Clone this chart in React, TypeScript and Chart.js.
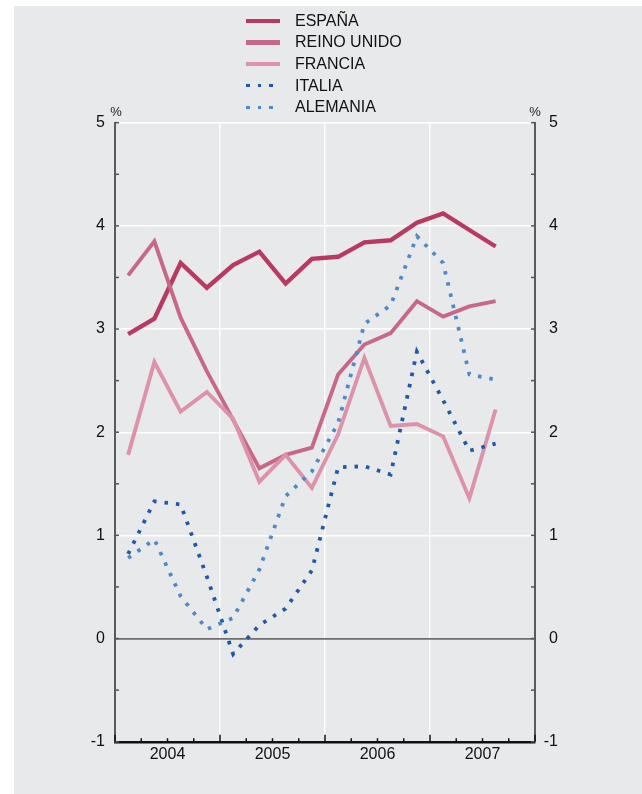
import React, { useEffect, useRef } from "react";
import { Chart, registerables } from "chart.js";

Chart.register(...registerables);

// ---- data ----
const YEARS = ["2004", "2005", "2006", "2007"];
const QUARTERS = [
  "2004-I", "2004-II", "2004-III", "2004-IV",
  "2005-I", "2005-II", "2005-III", "2005-IV",
  "2006-I", "2006-II", "2006-III", "2006-IV",
  "2007-I", "2007-II", "2007-III",
];
const SERIES_NAMES = ["ESPAÑA", "REINO UNIDO", "FRANCIA", "ITALIA", "ALEMANIA"];
const ESPANA = [2.95, 3.1, 3.64, 3.4, 3.62, 3.75, 3.44, 3.68, 3.7, 3.84, 3.86, 4.03, 4.12, 3.96, 3.8];
const REINO_UNIDO = [3.52, 3.85, 3.11, 2.59, 2.12, 1.65, 1.78, 1.85, 2.56, 2.85, 2.96, 3.27, 3.12, 3.22, 3.27];
const FRANCIA = [1.78, 2.68, 2.2, 2.39, 2.13, 1.52, 1.78, 1.46, 1.98, 2.72, 2.06, 2.08, 1.96, 1.36, 2.22];
const ITALIA = [0.82, 1.33, 1.3, 0.6, -0.15, 0.13, 0.29, 0.66, 1.66, 1.67, 1.59, 2.78, 2.31, 1.82, 1.89];
const ALEMANIA = [0.78, 0.96, 0.41, 0.09, 0.2, 0.67, 1.38, 1.62, 2.09, 3.05, 3.23, 3.9, 3.64, 2.56, 2.51];
const Y_TICKS_MIN = -1;
const Y_TICKS_MAX = 5;

// ---- styles ----
const COLORS = ["#b83a62", "#c86889", "#dc93aa", "#2058a8", "#4f88c8"];
const DOTTED = [false, false, false, true, true];
const WIDTHS = [4.4, 3.9, 3.9, 3.8, 3.8];
const BG = "#e8e9eb";
const FONT = '"Liberation Sans", Arial, Helvetica, sans-serif';

const W = 628;
const H = 788;

const axisDecor = {
  id: "axisDecor",
  afterDraw(chart: any) {
    const { ctx, chartArea } = chart;
    const { left, right, top, bottom } = chartArea;
    const x = chart.scales.x;
    const y = chart.scales.y;
    const seg = (x1: number, y1: number, x2: number, y2: number) => {
      ctx.beginPath();
      ctx.moveTo(x1, y1);
      ctx.lineTo(x2, y2);
      ctx.stroke();
    };
    ctx.save();
    ctx.strokeStyle = "#555";
    ctx.lineWidth = 1.5;
    for (let v = Y_TICKS_MIN; v <= Y_TICKS_MAX + 1e-9; v += 0.5) {
      const py = y.getPixelForValue(v);
      seg(left, py, left + 4, py);
      seg(right - 4, py, right, py);
    }
    ctx.strokeStyle = "#111";
    ctx.lineWidth = 1.5;
    for (let q = 0; q <= YEARS.length * 4; q++) {
      const px = x.getPixelForValue(q);
      const len = q % 4 === 0 ? 7 : 3.5;
      seg(px, bottom, px, bottom - len);
    }
    ctx.fillStyle = "#222";
    ctx.font = "13px " + FONT;
    ctx.textAlign = "center";
    ctx.textBaseline = "middle";
    ctx.fillText("%", left + 1, top - 10);
    ctx.fillText("%", right, top - 10);
    ctx.restore();
  },
};

export default function App() {
  const ref = useRef<HTMLCanvasElement | null>(null);

  useEffect(() => {
    if (!ref.current) return;
    Chart.defaults.font.family = FONT;
    const seriesValues = [ESPANA, REINO_UNIDO, FRANCIA, ITALIA, ALEMANIA];
    const datasets = seriesValues.map((vals, si) => ({
      label: SERIES_NAMES[si],
      data: vals.map((v, i) => ({ x: QUARTERS.indexOf(QUARTERS[i]) + 0.5, y: v })),
      borderColor: COLORS[si],
      backgroundColor: COLORS[si],
      borderWidth: WIDTHS[si],
      borderDash: DOTTED[si] ? [3.5, 8] : [],
      borderCapStyle: "butt" as const,
      borderJoinStyle: "miter" as const,
      pointRadius: 0,
      tension: 0,
      fill: false,
    }));
    const ordered = [datasets[4], datasets[3], datasets[2], datasets[1], datasets[0]];

    const chart = new Chart(ref.current, {
      type: "line",
      data: { datasets: ordered },
      plugins: [axisDecor],
      options: {
        responsive: false,
        animation: false,
        layout: { padding: { top: 116.7, left: 0, right: 84, bottom: 0 } },
        plugins: { legend: { display: false }, tooltip: { enabled: false } },
        scales: {
          x: {
            type: "linear",
            min: 0,
            max: YEARS.length * 4,
            afterFit: (s: any) => {
              s.height = 52.3;
            },
            ticks: {
              stepSize: 1,
              autoSkip: false,
              maxRotation: 0,
              padding: 3,
              color: "#111",
              font: { size: 16 },
              callback: (v: any) => {
                const n = Number(v);
                return n % 4 === 2 ? YEARS[(n - 2) / 4] : "";
              },
            },
            grid: {
              drawTicks: false,
              color: (c: any) => {
                const v = c.tick ? c.tick.value : 0;
                return v > 0 && v < YEARS.length * 4 && v % 4 === 0 ? "#ffffff" : "rgba(0,0,0,0)";
              },
              lineWidth: 1.4,
            },
            border: { display: true, color: "#111", width: 2.4 },
          },
          y: {
            type: "linear",
            position: "left",
            min: Y_TICKS_MIN,
            max: Y_TICKS_MAX,
            afterFit: (s: any) => {
              s.width = 101;
            },
            ticks: { stepSize: 1, padding: 10, color: "#111", font: { size: 16 } },
            grid: {
              drawTicks: false,
              color: (c: any) => {
                const v = c.tick ? c.tick.value : 0;
                if (v === 0) return "#6e6e6e";
                if (v === Y_TICKS_MIN) return "rgba(0,0,0,0)";
                return "#ffffff";
              },
              lineWidth: (c: any) => (c.tick && c.tick.value === 0 ? 1.8 : 1.4),
            },
            border: { display: true, color: "#5a5a5a", width: 2 },
          },
          y2: {
            type: "linear",
            position: "right",
            min: Y_TICKS_MIN,
            max: Y_TICKS_MAX,
            afterFit: (s: any) => {
              s.width = 23;
            },
            ticks: { stepSize: 1, padding: 10, crossAlign: "far", color: "#111", font: { size: 16 } },
            grid: { display: false, drawTicks: false },
            border: { display: true, color: "#5a5a5a", width: 2 },
          },
        },
      } as any,
    });
    return () => chart.destroy();
  }, []);

  const rowTop = 14.7;
  const rowGap = 21.65;

  return (
    <div
      style={{
        position: "absolute",
        left: 14,
        top: 6,
        width: W,
        height: H,
        background: BG,
        fontFamily: FONT,
      }}
    >
      <canvas ref={ref} width={W} height={H} style={{ position: "absolute", left: 0, top: 0, width: W, height: H }} />
      {SERIES_NAMES.map((name, i) => {
        const cy = rowTop + i * rowGap;
        const sample = DOTTED[i]
          ? {
              width: 27,
              height: 3.6,
              background: `repeating-linear-gradient(to right, ${COLORS[i]} 0px, ${COLORS[i]} 3.6px, transparent 3.6px, transparent 11.7px)`,
            }
          : { width: 34, height: 4.4, background: COLORS[i] };
        return (
          <React.Fragment key={name}>
            <div
              style={{
                position: "absolute",
                left: 232,
                top: cy - sample.height / 2,
                ...sample,
              }}
            />
            <div
              style={{
                position: "absolute",
                left: 281,
                top: cy - 11,
                height: 22,
                lineHeight: "22px",
                fontSize: 16,
                color: "#111",
                whiteSpace: "nowrap",
              }}
            >
              {name}
            </div>
          </React.Fragment>
        );
      })}
    </div>
  );
}
